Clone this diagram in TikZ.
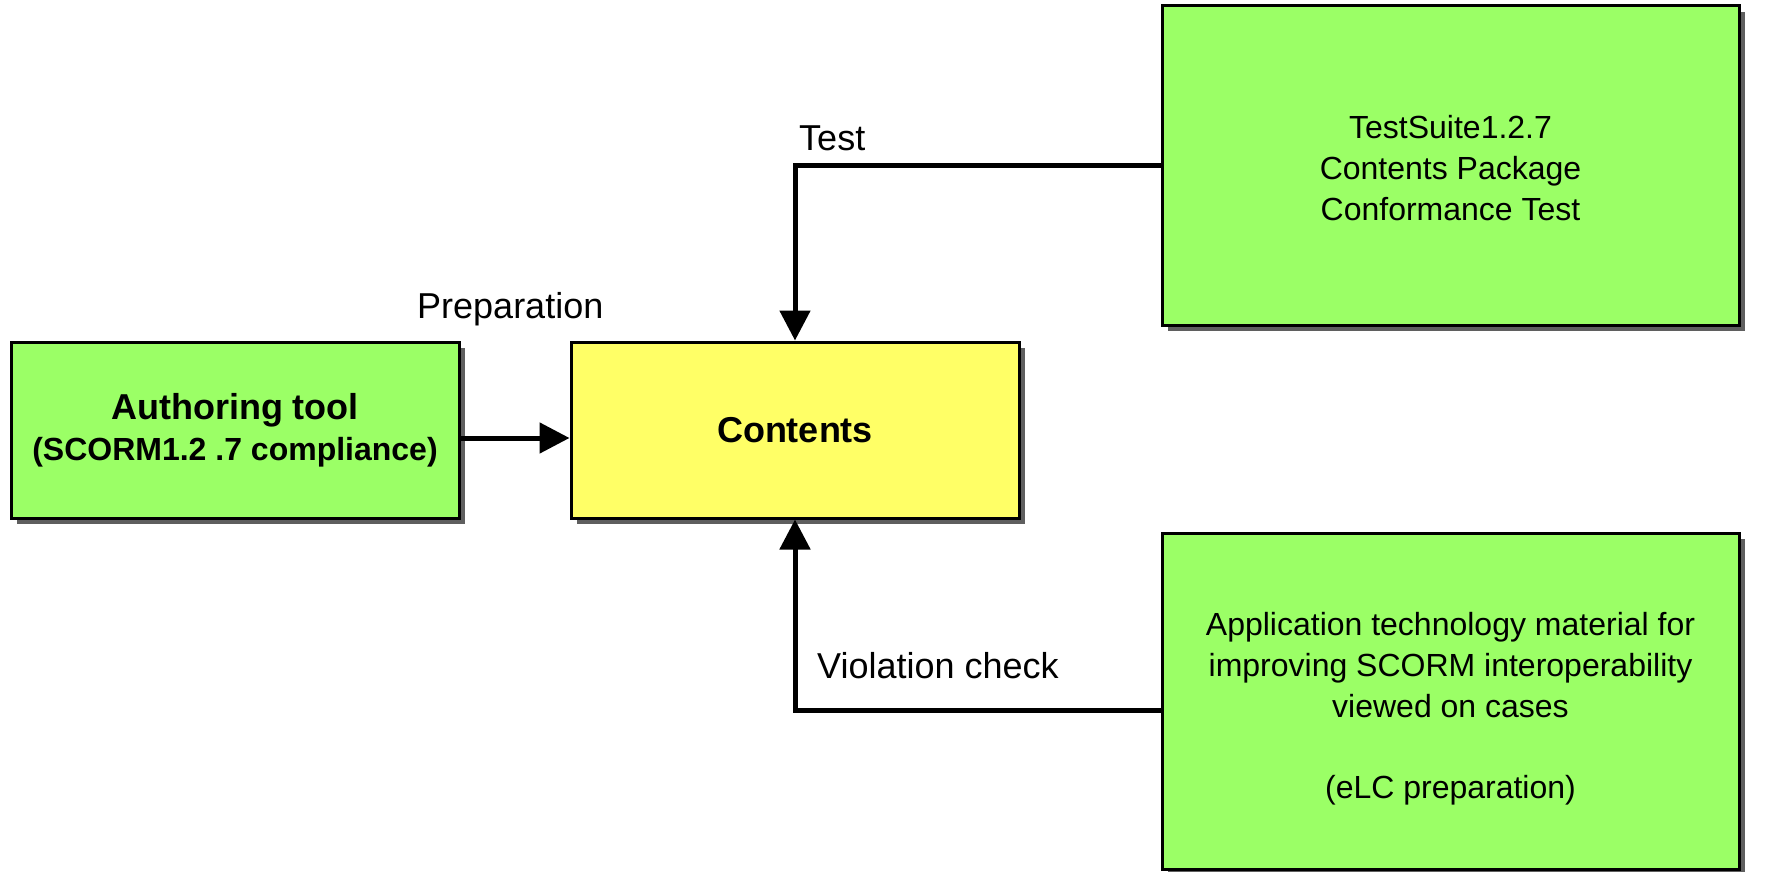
\documentclass[tikz,border=0pt]{standalone}
\usepackage{fontspec}
\setmainfont{Liberation Sans}
\usetikzlibrary{arrows.meta,shadows}
\definecolor{boxgreen}{HTML}{9BFF66}
\definecolor{boxyellow}{HTML}{FFFF66}
\definecolor{shadowgray}{HTML}{5F5F5F}
\begin{document}
\begin{tikzpicture}[x=1pt,y=-1pt]

      \useasboundingbox (0,0) rectangle (1770,872);

      \begin{scope}[every node/.style={rectangle,draw,line width=3pt,align=center,
          drop shadow={shadow xshift=6pt,shadow yshift=-6pt,fill=shadowgray,opacity=1},
          font=\fontsize{32}{41}\selectfont}]
        \node[fill=boxgreen,minimum width=448pt,minimum height=176pt] (auth) at (235,430)
          {{\fontsize{36}{40}\selectfont\bfseries Authoring tool}\\\bfseries (SCORM1.2 .7 compliance)};
        \node[fill=boxyellow,minimum width=448pt,minimum height=176pt,
          font=\fontsize{36}{43}\selectfont\bfseries] (cont) at (795,430) {Contents};
        \node[fill=boxgreen,minimum width=577pt,minimum height=319pt,text height=111pt] (suite) at (1450.5,165.5)
          {TestSuite1.2.7\\Contents Package\\Conformance Test};
        \node[fill=boxgreen,minimum width=577pt,minimum height=336pt,text height=201pt] (appl) at (1450.5,701)
          {Application technology material for\\improving SCORM interoperability\\viewed on cases\\[40pt](eLC preparation)};
      \end{scope}

      \begin{scope}[every node/.style={font=\fontsize{36}{43}\selectfont,inner sep=0pt,anchor=base west}]
        \node (test) at (799,150) {Test};
        \node (prep) at (417,318) {Preparation};
        \node (viol) at (817,678) {Violation check};
      \end{scope}

      \begin{scope}[line width=5pt,-{Triangle[length=30pt,width=30pt]}]
        \draw ([yshift=-8pt]auth.east) -- ([yshift=-8pt]cont.west);
        \draw (suite.west) -| (cont.north);
        \draw ([yshift=-9pt]appl.west) -| (cont.south);
      \end{scope}

    \end{tikzpicture}
\end{document}
